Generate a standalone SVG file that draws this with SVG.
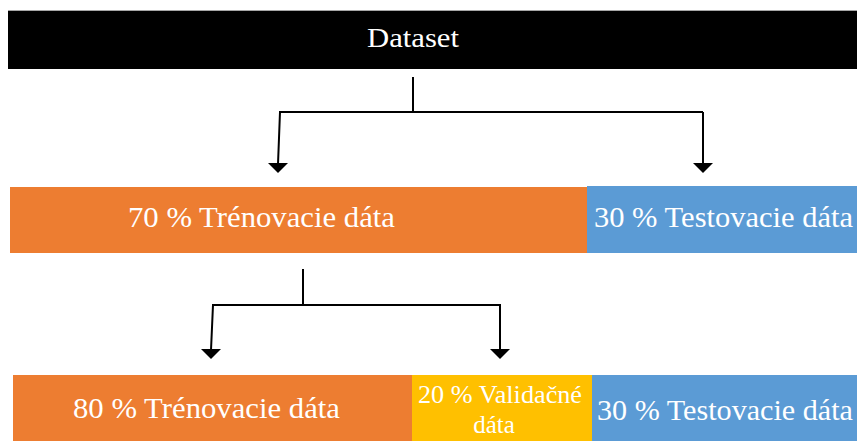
<svg xmlns="http://www.w3.org/2000/svg" width="857" height="441" viewBox="0 0 857 441">
  <style>
    .lbl { font-family: "Liberation Serif", "DejaVu Serif", serif; fill: #ffffff; }
    .wire { fill: none; stroke: #000000; stroke-width: 2; }
    .head { fill: #000000; }
    .train { fill: #ED7D31; }
    .test { fill: #5B9BD5; }
    .valid { fill: #FFC000; }
  </style>
  <rect width="857" height="441" fill="#ffffff"/>

  <g id="dataset">
    <rect x="8" y="10" width="849" height="1.5" fill="#a6a6a6"/>
    <rect x="8" y="11" width="849" height="58" fill="#000000"/>
    <text class="lbl" x="367" y="47" font-size="27" textLength="92" lengthAdjust="spacingAndGlyphs">Dataset</text>
  </g>

  <g id="connectors">
    <!-- dataset split -->
    <path class="wire" d="M413 77 V112 M279 112 H703 M280 112 L278 164 M703 112 V164"/>
    <polygon class="head" points="268,163 288,163 278,173"/>
    <polygon class="head" points="693,163 713,163 703,173"/>
    <!-- training split -->
    <path class="wire" d="M303 269 V305 M212 305 H501 M213 305 L211 350 M500 305 V350"/>
    <polygon class="head" points="201,349 221,349 211,359"/>
    <polygon class="head" points="490,349 510,349 500,359"/>
  </g>

  <g id="train70">
    <rect class="train" x="10" y="187" width="578" height="66"/>
    <text class="lbl" x="128" y="227" font-size="30" textLength="267" lengthAdjust="spacingAndGlyphs">70 % Trénovacie dáta</text>
  </g>

  <g id="test30a">
    <rect class="test" x="587" y="186" width="270" height="67"/>
    <text class="lbl" x="594" y="227" font-size="30" textLength="259" lengthAdjust="spacingAndGlyphs">30 % Testovacie dáta</text>
  </g>

  <g id="train80">
    <rect class="train" x="13" y="375" width="400" height="66"/>
    <text class="lbl" x="73" y="418" font-size="30" textLength="267" lengthAdjust="spacingAndGlyphs">80 % Trénovacie dáta</text>
  </g>

  <g id="valid20">
    <rect class="valid" x="412" y="375" width="180" height="66"/>
    <text class="lbl" x="418" y="403" font-size="25" textLength="164" lengthAdjust="spacingAndGlyphs">20 % Validačné</text>
    <text class="lbl" x="494" y="433" font-size="25" text-anchor="middle">dáta</text>
  </g>

  <g id="test30b">
    <rect class="test" x="592" y="375" width="265" height="66"/>
    <text class="lbl" x="597" y="420" font-size="30" textLength="256" lengthAdjust="spacingAndGlyphs">30 % Testovacie dáta</text>
  </g>
</svg>
